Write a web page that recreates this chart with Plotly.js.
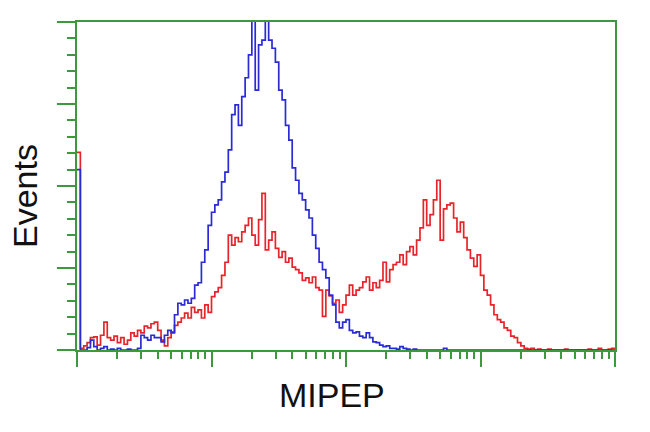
<!DOCTYPE html>
<html>
<head>
<meta charset="utf-8">
<script src="https://cdn.plot.ly/plotly-3.0.1.min.js"></script>
<style>html,body{margin:0;padding:0;background:#fff;}#chart{width:650px;height:432px;}</style>
</head>
<body>
<div id="chart"></div>
<script>
// Histogram channels (160 log-spaced channels over 4 decades)
const channelCount = 160;
const decadeTicks = [0, 40, 80, 120, 160];
const eventTicks = [0, 100, 200, 300, 400];

// Control (blue) event counts per channel
const blueCounts = [
220,0,0,3,12,4,0,2,4,0,
1,0,2,0,0,1,0,0,2,18,
15,12,18,15,15,10,18,24,21,43,
57,55,61,57,63,79,82,107,122,152,
168,177,183,205,217,244,287,299,274,309,
332,360,420,317,372,378,420,378,368,351,
317,305,274,256,222,207,191,183,171,161,
140,124,107,98,88,67,55,34,27,34,
37,24,21,22,17,15,21,15,10,9,
6,4,5,2,2,1,4,2,1,0,
1,0,0,0,0,0,0,0,0,2,
0,0,0,0,0,0,0,0,0,0,
0,0,0,0,0,0,0,0,0,0,
0,0,0,0,0,0,0,0,0,0,
0,0,0,0,0,0,0,0,0,0,
0,0,0,0,0,0,0,0,0,0
];

// MIPEP-transfected (red) event counts per channel
const redCounts = [
241,2,5,9,15,16,6,18,34,15,
12,17,9,15,7,12,21,17,24,21,
29,27,32,34,24,12,5,15,22,30,
34,39,45,39,52,46,49,39,55,46,
65,71,76,91,107,140,128,137,132,144,
152,161,140,128,159,191,122,134,144,124,
113,120,107,112,101,98,94,85,88,82,
89,76,73,41,73,66,57,61,46,55,
67,79,67,73,76,83,89,73,82,76,
85,107,83,98,104,107,116,104,120,126,
116,134,149,183,152,165,183,207,134,172,
177,179,161,144,156,137,122,112,102,116,
91,73,67,55,43,37,34,27,24,17,
15,9,5,2,1,2,0,1,0,0,
1,0,0,0,0,1,0,0,0,0,
0,0,1,0,0,2,0,0,1,2
];

const channels = [];
for (let i = 0; i < channelCount; i++) channels.push(i);
// append closing edge so the last bin is drawn
const xs = channels.concat([channelCount]);
const redY = redCounts.concat([redCounts[redCounts.length - 1]]);
const blueY = blueCounts.concat([blueCounts[blueCounts.length - 1]]);

// minor log ticks (2..9 within each decade)
const perDecade = channelCount / 4;
const minorX = [];
for (let d = 0; d < 4; d++) {
  for (let k = 2; k <= 9; k++) minorX.push(perDecade * (d + Math.log10(k)));
}

const green = '#3c9a3c';

const traces = [
  {x: xs, y: redY, type: 'scatter', mode: 'lines', line: {shape: 'hv', color: '#e8242a', width: 1.7}, hoverinfo: 'skip'},
  {x: xs, y: blueY, type: 'scatter', mode: 'lines', line: {shape: 'hv', color: '#2b2bd6', width: 1.7}, hoverinfo: 'skip'}
];

const layout = {
  width: 650, height: 432,
  margin: {l: 77, r: 35, t: 22, b: 82},
  paper_bgcolor: '#ffffff', plot_bgcolor: '#ffffff',
  showlegend: false,
  xaxis: {
    range: [0, channelCount], showgrid: false, zeroline: false,
    showline: true, mirror: true, linecolor: green, linewidth: 2,
    tickmode: 'array', tickvals: decadeTicks, ticks: 'outside', ticklen: 15,
    tickcolor: green, tickwidth: 2, showticklabels: false,
    minor: {tickmode: 'array', tickvals: minorX, ticks: 'outside', ticklen: 7, tickcolor: green, tickwidth: 2, showgrid: false}
  },
  yaxis: {
    range: [0, 400], showgrid: false, zeroline: false,
    showline: true, mirror: true, linecolor: green, linewidth: 2,
    tickmode: 'array', tickvals: eventTicks, ticks: 'outside', ticklen: 18,
    tickcolor: green, tickwidth: 2, showticklabels: false,
    minor: {dtick: 20, ticks: 'outside', ticklen: 8, tickcolor: green, tickwidth: 2, showgrid: false}
  },
  annotations: [
    {text: 'MIPEP', xref: 'paper', yref: 'paper', x: (332 - 77) / 538, y: (350 - 395) / 328,
     xanchor: 'center', yanchor: 'middle', showarrow: false,
     font: {family: 'Liberation Sans, Arial, sans-serif', size: 34, color: '#111'}},
    {text: 'Events', xref: 'paper', yref: 'paper', x: (25 - 77) / 538, y: (350 - 196) / 328,
     xanchor: 'center', yanchor: 'middle', showarrow: false, textangle: -90,
     font: {family: 'Liberation Sans, Arial, sans-serif', size: 34, color: '#111'}}
  ]
};

Plotly.newPlot('chart', traces, layout, {displayModeBar: false, staticPlot: true});
</script>
</body>
</html>
